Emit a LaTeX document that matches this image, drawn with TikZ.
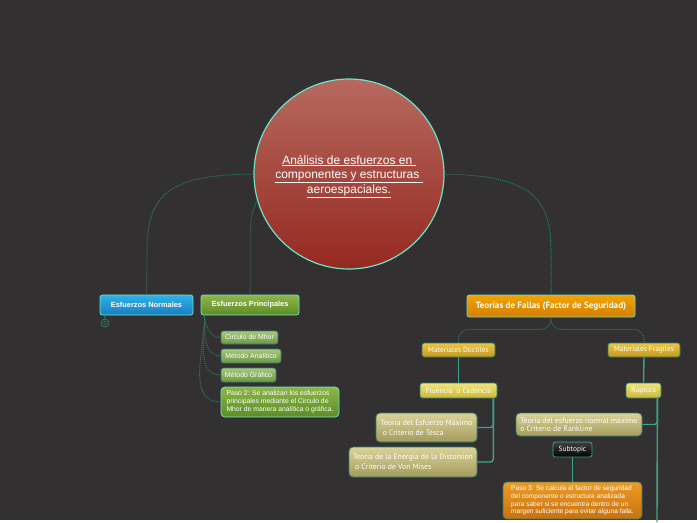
\documentclass[tikz,border=0pt]{standalone}
\usepackage{fontspec}
\setmainfont{Liberation Sans}
\newfontfamily\ptsans{PT Sans}
\definecolor{bgdark}{HTML}{323031}
\definecolor{aqua}{HTML}{6FE3C6}
\definecolor{linkteal}{HTML}{2F7D6A}
\definecolor{solidteal}{HTML}{3AA58D}
\definecolor{redtop}{HTML}{B7695F}
\definecolor{redbot}{HTML}{952920}
\definecolor{bluetop}{HTML}{2DB2EA}
\definecolor{bluebot}{HTML}{1A7DBE}
\definecolor{greentop}{HTML}{8EB649}
\definecolor{greenbot}{HTML}{5C8D27}
\definecolor{leaftop}{HTML}{A8C87E}
\definecolor{leafbot}{HTML}{6C9844}
\definecolor{orangetop}{HTML}{F4A300}
\definecolor{orangebot}{HTML}{D27E00}
\definecolor{goldtop}{HTML}{ECC544}
\definecolor{goldbot}{HTML}{C4991E}
\definecolor{yellowtop}{HTML}{F0E67C}
\definecolor{yellowbot}{HTML}{CBB63C}
\definecolor{khakitop}{HTML}{DAD399}
\definecolor{khakibot}{HTML}{A49B5D}
\definecolor{stepatop}{HTML}{EE9B24}
\definecolor{stepabot}{HTML}{C67212}
\begin{document}
\begin{tikzpicture}[x=1pt,y=-1pt,
    box/.style={draw=aqua, line width=0.8pt, rounded corners=2.5pt, inner sep=1.5pt, text=white, align=center},
    bluebox/.style={box, top color=bluetop, bottom color=bluebot},
    greenbox/.style={box, top color=greentop, bottom color=greenbot},
    leafbox/.style={box, draw=linkteal, top color=leaftop, bottom color=leafbot,
        font=\fontsize{6.9}{8}\selectfont},
    orangebox/.style={box, top color=orangetop, bottom color=orangebot},
    goldbox/.style={box, draw=linkteal, top color=goldtop, bottom color=goldbot,
        font=\ptsans\fontsize{7.4}{8}\selectfont},
    yellowbox/.style={box, draw=linkteal, top color=yellowtop, bottom color=yellowbot,
        font=\ptsans\fontsize{7.4}{8}\selectfont},
    khakibox/.style={box, draw=linkteal, rounded corners=4pt, top color=khakitop, bottom color=khakibot,
        font=\ptsans\fontsize{7.8}{9.5}\selectfont, align=left},
    dotlink/.style={draw=linkteal, line width=1pt, densely dotted},
    solink/.style={draw=solidteal, line width=1.4pt}]

    % Background
    \fill[bgdark] (0,0) rectangle (697,520);

    % Central topic
    \node[circle, draw=aqua, line width=1.2pt, top color=redtop, bottom color=redbot,
        minimum size=190pt, inner sep=0pt] (main) at (349,174) {};
    \node[text=white, align=center, font=\fontsize{12}{14.5}\selectfont] (title) at (349,176.5)
        {\underline{Análisis de esfuerzos en\ }\\ \underline{componentes y estructuras\ }\\ \underline{aeroespaciales.}};

    % Main branches
    \node[bluebox, minimum width=93pt, minimum height=20pt, font=\bfseries\fontsize{7.4}{8}\selectfont]
        (normal) at (146.5,305) {Esfuerzos Normales};
    \node[greenbox, minimum width=98pt, minimum height=20pt, font=\bfseries\fontsize{7.4}{8}\selectfont]
        (principal) at (250,305) {Esfuerzos Principales};
    \node[orangebox, minimum width=168pt, minimum height=22pt, font=\ptsans\bfseries\fontsize{9.1}{10}\selectfont]
        (fallas) at (551,306) {Teorías de Fallas (Factor de Seguridad)};

    % Collapsed marker
    \node[circle, draw=linkteal, line width=0.8pt, minimum size=8pt, inner sep=0pt] (plus) at (105,323) {};
    \draw[linkteal, line width=0.6pt] (plus.center) ellipse (1.2 and 2);

    % Children of Esfuerzos Principales
    \node[leafbox, minimum width=57pt, minimum height=13pt] (mhor) at (249.5,337.5) {Circulo de Mhor};
    \node[leafbox, minimum width=60pt, minimum height=14pt] (analitico) at (251,356) {Método Analítico};
    \node[leafbox, minimum width=55pt, minimum height=14pt] (grafico) at (248.5,375) {Método Gráfico};
    \node[greenbox, rounded corners=4pt, minimum width=118pt, minimum height=30pt, align=left,
        font=\fontsize{6.8}{8.2}\selectfont] (paso2) at (280,402)
        {Paso 2: Se analizan los esfuerzos\\ principales mediante el Circulo de\\ Mhor de manera analítica o gráfica.};

    % Children of Teorias de Fallas
    \node[goldbox, minimum width=73pt, minimum height=14pt] (ductil) at (458.5,350) {Materiales Dúctiles};
    \node[goldbox, minimum width=72pt, minimum height=14pt] (fragil) at (644,350) {Materiales Fragiles};
    \node[yellowbox, minimum width=77pt, minimum height=15pt] (fluencia) at (458.5,390.5) {Fluencia\ \ o Cedencia};
    \node[yellowbox, minimum width=35pt, minimum height=15pt] (ruptura) at (643.5,390.5) {Ruptura};
    \node[khakibox, minimum width=101pt, minimum height=29pt] (tesca) at (426.5,427.5)
        {Teoria del Esfuerzo Máximo\\ \ o Criterio de Tesca};
    \node[khakibox, minimum width=128pt, minimum height=30pt] (vonmises) at (413,462)
        {Teoria de la Energia de la Distorsion\\ \ o Criterio de Von Mises};
    \node[khakibox, minimum width=126pt, minimum height=23pt, font=\ptsans\fontsize{7.8}{8.5}\selectfont]
        (rankine) at (579,424.5)
        {Teoria del esfuerzo normal máximo\\ o Criterio de Rankline};
    \node[box, draw=solidteal, top color=black!75, bottom color=black, minimum width=39pt, minimum height=15pt,
        font=\ptsans\fontsize{7.4}{8}\selectfont] (subtopic) at (572.5,449.5) {Subtopic};
    \node[box, draw=linkteal, rounded corners=4pt, top color=stepatop, bottom color=stepabot,
        minimum width=139pt, minimum height=37pt, align=left, font=\fontsize{6.6}{7.7}\selectfont]
        (paso3) at (572.5,500.5)
        {Paso 3: Se calcula el factor de seguridad\\ del componente o estructura analizada\\
         para saber si se encuentra dentro de un\\ margen suficiente para evitar alguna falla.};
    \coordinate (rupend) at (657,522);

    % Dotted links from the central topic
    \draw[dotlink] (main.west) .. controls (175,175) and (147,190) .. (147,250) -- (normal.north);
    \draw[dotlink] (main.196) .. controls (251,215) .. (250,240) -- (principal.north);
    \draw[dotlink] (main.east) .. controls (528,176) and (551,195) .. (551,250) -- (fallas.north);
    \draw[linkteal, line width=0.8pt] ([xshift=4.5pt]normal.south west) -- (plus.north);

    % Dotted links to the leaves
    \foreach \leaf in {mhor, analitico, grafico, paso2}
        \draw[dotlink] ([xshift=4pt]principal.south west) to[out=-90, in=180] (\leaf.west);
    \draw[dotlink, rounded corners=10pt] (fallas.south) -- ++(0,12) -| (ductil.north);
    \draw[dotlink, rounded corners=10pt] (fallas.south) -- ++(0,12) -| (fragil.north);

    % Solid links
    \draw[solink] (ductil.south) -- (fluencia.north);
    \draw[solink] (fragil.south) -- (ruptura.north);
    \draw[solink, rounded corners=3pt] ([xshift=-4pt]fluencia.south east) |- (tesca.east);
    \draw[solink, rounded corners=3pt] ([xshift=-4pt]fluencia.south east) |- (vonmises.east);
    \draw[solink] ([xshift=-4pt]ruptura.south east) -- (rupend);
    \draw[solink, rounded corners=3pt] ([xshift=-4pt]ruptura.south east) |- (rankine.east);
    \draw[solink] (subtopic.south) -- (paso3.north);
\end{tikzpicture}
\end{document}
